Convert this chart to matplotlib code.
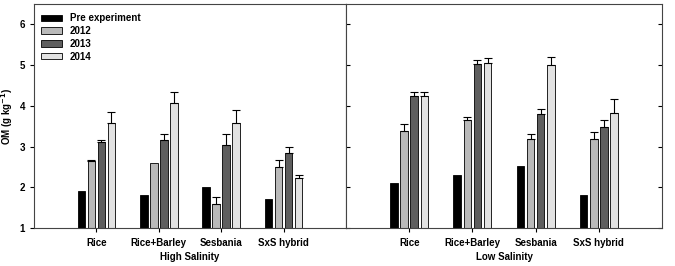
import numpy as np
import matplotlib.pyplot as plt
from matplotlib.ticker import NullFormatter

plt.rcParams['font.family'] = ['Liberation Sans', 'DejaVu Sans']
plt.rcParams['font.weight'] = 'bold'

crops = ['Rice', 'Rice+Barley', 'Sesbania', 'SxS hybrid']
series = ['Pre experiment', '2012', '2013', '2014']

# High salinity: rows = series, cols = crops
high = [[1.90, 1.80, 2.00, 1.70],
        [2.65, 2.60, 1.60, 2.50],
        [3.10, 3.15, 3.05, 2.85],
        [3.57, 4.08, 3.57, 2.23]]
high_err = [[0.00, 0.00, 0.00, 0.00],
            [0.03, 0.00, 0.15, 0.18],
            [0.05, 0.17, 0.27, 0.15],
            [0.27, 0.27, 0.32, 0.08]]

low = [[2.11, 2.31, 2.52, 1.80],
       [3.38, 3.65, 3.18, 3.18],
       [4.25, 5.02, 3.79, 3.49],
       [4.25, 5.04, 5.00, 3.83]]
low_err = [[0.00, 0.00, 0.00, 0.00],
           [0.18, 0.08, 0.12, 0.18],
           [0.09, 0.10, 0.12, 0.16],
           [0.09, 0.14, 0.19, 0.34]]

colors = ['#000000', '#b9b9b9', '#5e5e5e', '#e2e2e2']

fig = plt.figure(figsize=(6.75, 2.66), dpi=100)
W, H = 675.0, 266.0
bot, top = 228, 4
ax1 = fig.add_axes([34/W, (H-bot)/H, (346-34)/W, (bot-top)/H])
ax2 = fig.add_axes([346/W, (H-bot)/H, (662-346)/W, (bot-top)/H])

x = np.arange(1, len(crops)+1)
step, width = 0.16, 0.12
offs = (np.arange(4) - 1.5) * step

for ax, vals, errs, title in [(ax1, high, high_err, 'High Salinity'),
                              (ax2, low, low_err, 'Low Salinity')]:
    for i in range(4):
        v = np.array(vals[i])
        e = np.array(errs[i])
        ax.bar(x + offs[i], v - 1, width, bottom=1, color=colors[i],
               edgecolor='black', linewidth=0.6, label=series[i], zorder=2)
        m = e > 0
        if m.any():
            ax.errorbar((x + offs[i])[m], v[m], yerr=[np.zeros(m.sum()), e[m]],
                        fmt='none', ecolor='black', elinewidth=0.8,
                        capsize=3, capthick=0.8, zorder=3)
    ax.set_xlim(0, 5)
    ax.set_ylim(1, 6.5)
    ax.set_xticks(x)
    ax.set_xticklabels(crops, fontsize=7, fontweight='bold')
    ax.set_xlabel(title, fontsize=7, fontweight='bold', labelpad=3)
    ax.set_yticks([1, 2, 3, 4, 5, 6])
    ax.tick_params(axis='x', direction='out', length=3, width=0.8, pad=4)
    for s in ax.spines.values():
        s.set_linewidth(0.8)
        s.set_color('#444444')

ax1.tick_params(axis='y', direction='out', length=3, width=0.8, labelsize=7)
ax1.set_ylabel('OM (g kg$^{\\mathbf{-1}}$)', fontsize=7, fontweight='bold', labelpad=3)
ax2.yaxis.set_major_formatter(NullFormatter())
ax2.tick_params(axis='y', which='both', left=True, right=True, direction='in',
                length=3, width=0.8)

leg = ax1.legend(loc='upper left', bbox_to_anchor=(0.0, 0.99), frameon=False,
                 fontsize=7, handlelength=2.2, handleheight=0.6,
                 labelspacing=0.3, handletextpad=0.8, borderaxespad=0.3)
for t in leg.get_texts():
    t.set_fontweight('bold')

fig.savefig('out.png', dpi=100)
